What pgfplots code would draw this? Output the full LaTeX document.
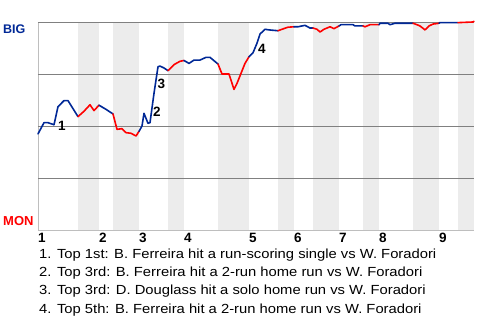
\documentclass[border=0pt]{standalone}
\usepackage{pgfplots}
\pgfplotsset{compat=1.18}
\usepackage{fontspec}
\setmainfont{Liberation Sans}
\newfontfamily\legfont[FakeStretch=1.12]{Liberation Sans}
\definecolor{bigblue}{RGB}{0,40,150}
\definecolor{monred}{RGB}{255,0,0}
\definecolor{band}{RGB}{236,236,236}
\definecolor{gridc}{RGB}{128,128,128}
\definecolor{axc}{RGB}{190,190,190}
\begin{document}
\begin{tikzpicture}
\useasboundingbox (-38pt,-90pt) rectangle (442pt,230pt);
\begin{axis}[
  at={(0,0)}, anchor=south west,
  scale only axis, width=436pt, height=208pt,
  xmin=38, xmax=474, ymin=0, ymax=100,
  clip=false,
  axis line style={draw=none},
  ytick=\empty,
  xtick={38,99,139,184,249,294,339,379,439},
  xticklabels={1,2,3,4,5,6,7,8,9},
  major tick length=0pt,
  x tick label style={anchor=north west, inner sep=0pt, yshift=-3pt,
    font=\bfseries\fontsize{13.5}{13.5}\selectfont},
  every axis plot/.append style={line join=round, line cap=round},
]
% gray bands (bottom halves)
\addplot[fill=band, draw=none] coordinates {(78,0) (78,100) (99,100) (99,0)} --cycle;
\addplot[fill=band, draw=none] coordinates {(113,0) (113,100) (139,100) (139,0)} --cycle;
\addplot[fill=band, draw=none] coordinates {(168,0) (168,100) (184,100) (184,0)} --cycle;
\addplot[fill=band, draw=none] coordinates {(218,0) (218,100) (249,100) (249,0)} --cycle;
\addplot[fill=band, draw=none] coordinates {(278,0) (278,100) (294,100) (294,0)} --cycle;
\addplot[fill=band, draw=none] coordinates {(313,0) (313,100) (339,100) (339,0)} --cycle;
\addplot[fill=band, draw=none] coordinates {(363,0) (363,100) (379,100) (379,0)} --cycle;
\addplot[fill=band, draw=none] coordinates {(413,0) (413,100) (439,100) (439,0)} --cycle;
\addplot[fill=band, draw=none] coordinates {(458,0) (458,100) (474,100) (474,0)} --cycle;
% axis lines and grid
\addplot[axc, line width=0.8pt, line cap=butt] coordinates {(38,0) (38,100)};
\addplot[axc, line width=0.8pt, line cap=butt] coordinates {(38,0) (474,0)};
\addplot[gridc, line width=0.9pt, line cap=butt] coordinates {(38,25) (474,25)};
\addplot[gridc, line width=0.9pt, line cap=butt] coordinates {(38,50) (474,50)};
\addplot[gridc, line width=0.9pt, line cap=butt] coordinates {(38,75) (474,75)};
\addplot[gridc, line width=0.9pt, line cap=butt] coordinates {(38,100) (474,100)};
% win probability
\pgfplotsset{bl/.style={bigblue, line width=1.6pt}, rd/.style={monred, line width=1.6pt}}
\addplot[bl] coordinates {(38,46.2) (44,51.6) (48,51.6) (54,50.6) (58,59.3) (64,62.2) (68,62.2) (78,54.5)};
\addplot[rd] coordinates {(78,54.5) (84,57.1) (90,60.2) (94,57.4) (99,60.0)};
\addplot[bl] coordinates {(99,60.0) (106,58.0) (113,55.8)};
\addplot[rd] coordinates {(113,55.8) (117,48.4) (122,48.7) (126,46.8) (131,46.5) (136,45.2) (139,47.4)};
\addplot[bl] coordinates {(139,47.4) (142,50.0) (144,56.1) (148,51.3) (150,51.6) (154,65.7) (158,78.5) (160,78.8) (164,77.9) (168,76.6)};
\addplot[rd] coordinates {(168,76.6) (174,79.5) (180,81.1) (184,81.5)};
\addplot[bl] coordinates {(184,81.5) (189,80.1) (194,81.7) (200,81.7) (206,83.0) (210,83.0) (218,79.8)};
\addplot[rd] coordinates {(218,79.8) (222,75.0) (229,75.0) (234,67.6) (237,70.5) (241,75.3) (245,80.1) (249,83.3)};
\addplot[bl] coordinates {(249,83.3) (253,85.2) (257,89.8) (260,94.2) (265,96.5) (269,96.2) (278,95.8)};
\addplot[rd] coordinates {(278,95.8) (282,96.5) (288,97.5) (294,97.7)};
\addplot[bl] coordinates {(294,97.7) (298,97.7) (305,98.4) (310,97.1) (313,97.1)};
\addplot[rd] coordinates {(313,97.1) (317,96.5) (320,95.2) (324,96.5) (330,97.7) (334,96.8) (339,98.1)};
\addplot[bl] coordinates {(339,98.1) (341,98.7) (353,98.7) (355,98.1) (363,98.1)};
\addplot[rd] coordinates {(363,98.1) (365,97.7) (370,98.7) (379,98.7)};
\addplot[bl] coordinates {(379,98.7) (380,99.4) (388,99.4) (390,98.7) (395,99.4) (413,99.4)};
\addplot[rd] coordinates {(413,99.4) (417,98.7) (420,98.1) (425,96.2) (429,98.1) (433,99.0) (439,99.4)};
\addplot[bl] coordinates {(439,99.4) (440,99.7) (458,99.7)};
\addplot[rd] coordinates {(458,99.7) (473,100) (474,100.3)};
% event labels
\node[font=\bfseries\fontsize{13.5}{13.5}\selectfont, inner sep=0pt] at (axis cs:62,50.0) {1};
\node[font=\bfseries\fontsize{13.5}{13.5}\selectfont, inner sep=0pt] at (axis cs:157,56.7) {2};
\node[font=\bfseries\fontsize{13.5}{13.5}\selectfont, inner sep=0pt] at (axis cs:161.5,70.2) {3};
\node[font=\bfseries\fontsize{13.5}{13.5}\selectfont, inner sep=0pt] at (axis cs:262,87.0) {4};
\end{axis}
\node[anchor=base west, inner sep=0pt, text=bigblue, font=\bfseries\fontsize{12.5}{12.5}\selectfont] at (-35pt,196.7pt) {BIG};
\node[anchor=base west, inner sep=0pt, text=monred, font=\bfseries\fontsize{13}{13}\selectfont] at (-35pt,4.3pt) {MON};
\begin{scope}[every node/.style={anchor=base west, inner sep=0pt, font=\legfont\fontsize{13.2}{13.2}\selectfont}]
\node at (1pt,-28.3pt) {1. Top 1st: B. Ferreira hit a run-scoring single vs W. Foradori};
\node at (1pt,-46.7pt) {2. Top 3rd: B. Ferreira hit a 2-run home run vs W. Foradori};
\node at (1pt,-65pt) {3. Top 3rd: D. Douglass hit a solo home run vs W. Foradori};
\node at (1pt,-83.3pt) {4. Top 5th: B. Ferreira hit a 2-run home run vs W. Foradori};
\end{scope}
\end{tikzpicture}
\end{document}
